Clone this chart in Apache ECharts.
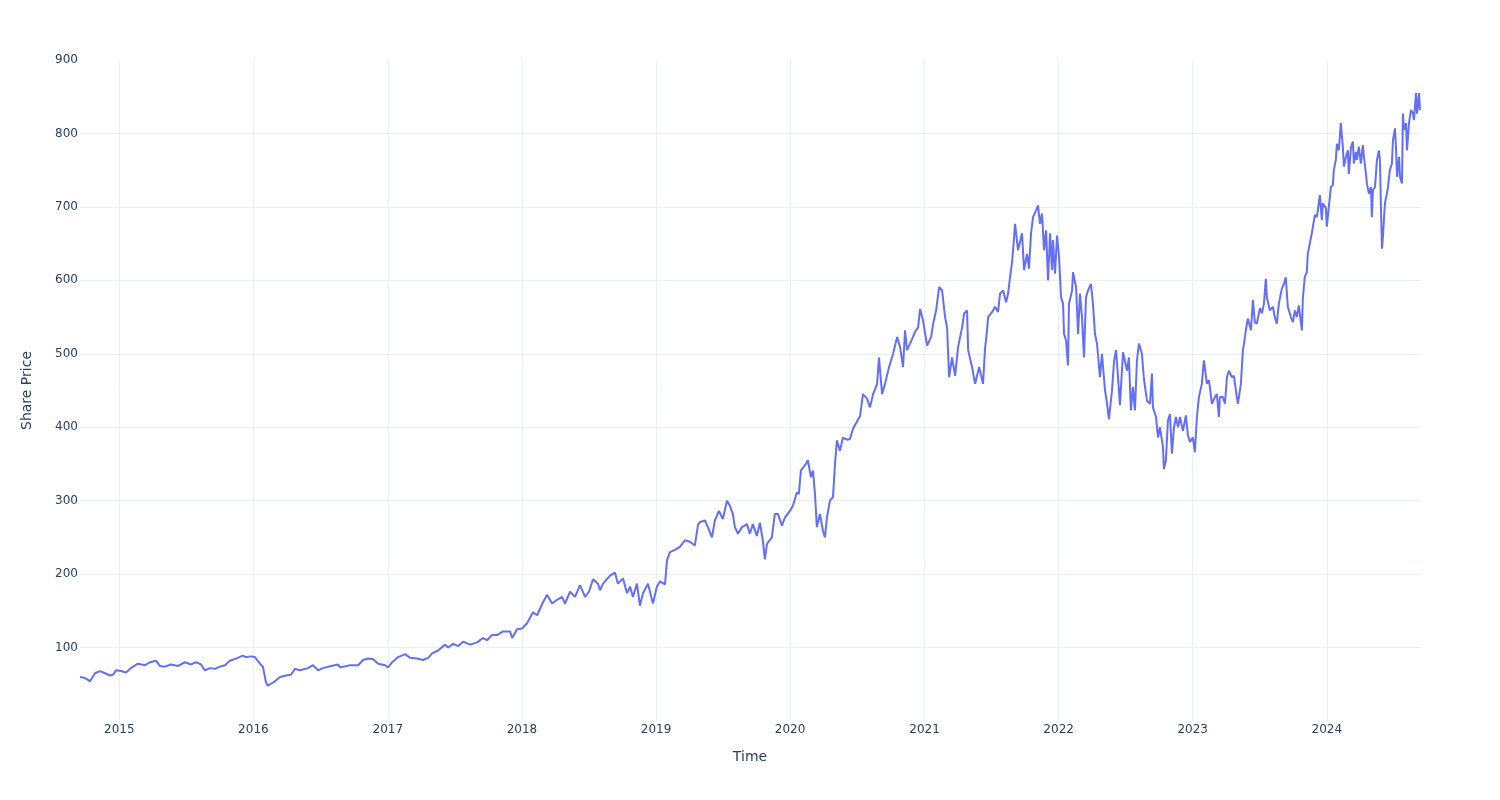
<!DOCTYPE html>
<html>
<head>
<meta charset="utf-8">
<script src="https://cdn.jsdelivr.net/npm/echarts@6/dist/echarts.min.js"></script>
<style>
html,body{margin:0;padding:0;background:#fff;}
#chart{width:1500px;height:800px;}
</style>
</head>
<body>
<div id="chart"></div>
<script>
// Dates as decimal years, prices
const t2014 = [2014.707,2014.737,2014.767,2014.782,2014.819,2014.856,2014.894,2014.931,2014.953,2014.975];
const p2014 = [60,59,56,54,65,68,65,62,63,69];

const t2015 = [2015.013,2015.050,2015.087,2015.139,2015.192,2015.229,2015.274,2015.303,2015.341,2015.385,2015.438,2015.490,2015.534,2015.572,2015.609,2015.639,2015.676,2015.713,2015.750,2015.788,2015.825,2015.870,2015.922,2015.944,2015.981];
const p2015 = [68,66,72,78,76,80,82,75,74,77,75,80,77,80,77,69,72,71,74,76,82,85,89,87,88];

const t2016 = [2016.011,2016.049,2016.071,2016.093,2016.108,2016.160,2016.198,2016.242,2016.280,2016.309,2016.347,2016.406,2016.443,2016.481,2016.518,2016.578,2016.630,2016.645,2016.719,2016.779,2016.816,2016.853,2016.891,2016.928,2016.980];
const p2016 = [87,78,74,53,48,54,60,62,63,71,69,72,76,69,72,75,77,73,76,76,83,85,84,78,76];

const t2017 = [2017.002,2017.032,2017.077,2017.129,2017.166,2017.219,2017.263,2017.301,2017.330,2017.375,2017.427,2017.450,2017.487,2017.524,2017.561,2017.614,2017.666,2017.710,2017.740,2017.777,2017.815,2017.859,2017.912,2017.927,2017.964];
const p2017 = [73,80,87,91,86,85,83,86,92,96,104,100,105,102,108,104,107,113,110,117,117,122,122,113,125];

const t2018 = [2018.001,2018.038,2018.083,2018.113,2018.150,2018.187,2018.225,2018.262,2018.299,2018.321,2018.359,2018.396,2018.433,2018.471,2018.500,2018.530,2018.567,2018.582,2018.605,2018.657,2018.694,2018.716,2018.754,2018.784,2018.806,2018.828,2018.858,2018.880,2018.903,2018.940,2018.977];
const p2018 = [126,133,148,144,159,172,160,165,169,160,176,169,185,169,176,193,187,178,187,198,202,187,194,174,183,169,187,157,174,187,160];

const t2019 = [2019.007,2019.029,2019.067,2019.082,2019.104,2019.141,2019.178,2019.216,2019.253,2019.290,2019.313,2019.328,2019.365,2019.387,2019.417,2019.439,2019.469,2019.499,2019.529,2019.551,2019.573,2019.588,2019.611,2019.641,2019.678,2019.700,2019.722,2019.752,2019.775,2019.797,2019.812,2019.827,2019.864,2019.886,2019.909,2019.939,2019.961,2019.998];
const p2019 = [183,190,186,219,230,233,237,246,244,239,267,271,273,264,250,273,286,275,300,293,282,264,255,264,268,255,268,252,270,245,220,241,250,282,282,266,277,286];

const t2020 = [2020.021,2020.050,2020.065,2020.080,2020.110,2020.132,2020.155,2020.170,2020.185,2020.199,2020.222,2020.244,2020.259,2020.274,2020.296,2020.319,2020.334,2020.348,2020.371,2020.393,2020.423,2020.445,2020.468,2020.498,2020.520,2020.542,2020.572,2020.594,2020.617,2020.647,2020.661,2020.684,2020.706,2020.736,2020.766,2020.796,2020.818,2020.840,2020.855,2020.870,2020.907,2020.930,2020.952,2020.967,2020.989];
const p2020 = [293,311,309,341,348,355,332,341,309,264,282,259,250,277,300,305,350,382,368,386,383,384,398,408,415,445,439,427,445,459,495,445,459,482,500,523,509,482,532,505,520,530,536,561,545];

const t2021 = [2021.019,2021.049,2021.064,2021.086,2021.109,2021.131,2021.153,2021.168,2021.183,2021.205,2021.228,2021.250,2021.280,2021.295,2021.317,2021.325,2021.354,2021.377,2021.407,2021.436,2021.451,2021.466,2021.474,2021.504,2021.526,2021.548,2021.563,2021.586,2021.608,2021.623,2021.638,2021.653,2021.660,2021.675,2021.697,2021.727,2021.742,2021.764,2021.779,2021.794,2021.809,2021.831,2021.846,2021.861,2021.876,2021.891,2021.906,2021.921,2021.936,2021.951,2021.958,2021.973,2021.988];
const p2021 = [511,523,541,559,591,586,550,536,468,495,470,509,536,555,559,505,482,459,482,459,507,532,550,557,564,557,582,586,570,582,605,625,641,677,641,664,614,636,616,664,686,695,702,677,691,641,668,600,664,614,655,609,661];

const t2022 = [2022.003,2022.018,2022.033,2022.040,2022.055,2022.070,2022.077,2022.100,2022.107,2022.130,2022.145,2022.159,2022.174,2022.189,2022.204,2022.219,2022.241,2022.256,2022.271,2022.286,2022.308,2022.323,2022.346,2022.361,2022.375,2022.398,2022.413,2022.428,2022.442,2022.457,2022.480,2022.510,2022.524,2022.539,2022.554,2022.569,2022.584,2022.599,2022.621,2022.636,2022.659,2022.681,2022.696,2022.703,2022.726,2022.741,2022.755,2022.778,2022.785,2022.800,2022.815,2022.830,2022.845,2022.860,2022.875,2022.890,2022.905,2022.927,2022.949,2022.964,2022.979];
const p2022 = [632,577,568,527,518,484,568,586,611,591,527,582,550,495,577,586,595,568,527,514,468,500,450,432,411,450,490,505,470,430,502,477,495,423,455,423,491,514,500,466,436,432,473,427,414,386,400,373,343,355,409,418,364,400,414,400,414,395,416,389,380];

const t2023 = [2023.001,2023.016,2023.031,2023.046,2023.068,2023.083,2023.091,2023.106,2023.121,2023.143,2023.165,2023.180,2023.195,2023.203,2023.225,2023.240,2023.255,2023.270,2023.292,2023.307,2023.329,2023.337,2023.359,2023.374,2023.381,2023.396,2023.411,2023.434,2023.449,2023.463,2023.478,2023.501,2023.516,2023.531,2023.545,2023.553,2023.575,2023.598,2023.612,2023.627,2023.642,2023.665,2023.680,2023.694,2023.709,2023.732,2023.747,2023.762,2023.776,2023.791,2023.814,2023.821,2023.836,2023.851,2023.858,2023.873,2023.888,2023.896,2023.911,2023.925,2023.933,2023.948,2023.963,2023.970,2023.993];
const p2023 = [386,366,414,441,459,491,489,459,464,432,441,445,414,441,441,432,468,477,468,470,441,432,459,505,512,532,548,532,573,543,541,562,555,568,602,577,559,564,550,541,568,589,595,604,564,550,543,559,550,566,532,575,605,611,636,650,664,673,689,686,695,716,682,705,698];

const t2024 = [2024.000,2024.015,2024.030,2024.045,2024.052,2024.067,2024.075,2024.089,2024.104,2024.119,2024.127,2024.142,2024.156,2024.164,2024.179,2024.194,2024.201,2024.216,2024.224,2024.238,2024.253,2024.268,2024.276,2024.291,2024.298,2024.313,2024.328,2024.335,2024.343,2024.358,2024.373,2024.387,2024.395,2024.402,2024.410,2024.417,2024.432,2024.447,2024.455,2024.469,2024.484,2024.492,2024.507,2024.514,2024.522,2024.537,2024.544,2024.559,2024.566,2024.574,2024.589,2024.596,2024.611,2024.626,2024.641,2024.648,2024.663,2024.671,2024.686,2024.693];
const p2024 = [673,700,727,730,750,764,786,777,814,782,755,768,777,745,780,789,759,775,764,782,759,784,768,745,732,718,727,686,723,727,764,777,764,705,643,659,705,718,727,750,759,791,807,782,741,768,741,732,827,805,814,777,814,832,827,818,855,827,855,832];

const yTicks = [100,200,300,400,500,600,700,800,900];
const xTitle = 'Time';
const yTitle = 'Share Price';

const allT = [].concat(t2014,t2015,t2016,t2017,t2018,t2019,t2020,t2021,t2022,t2023,t2024);
const allP = [].concat(p2014,p2015,p2016,p2017,p2018,p2019,p2020,p2021,p2022,p2023,p2024);

function yearToMs(t){
  const y = Math.floor(t);
  const a = new Date(y,0,1).getTime();
  const b = new Date(y+1,0,1).getTime();
  return a + (t - y) * (b - a);
}
const seriesData = allT.map((t,i) => [yearToMs(t), allP[i]]);

const txt = '#2a3f5f';
const gridCol = '#ebf0f8';
const DAY = 86400000;

const chart = echarts.init(document.getElementById('chart'), null, {renderer:'canvas'});
chart.setOption({
  animation:false,
  backgroundColor:'#ffffff',
  textStyle:{fontFamily:'DejaVu Sans'},
  grid:{left:80,right:80,top:60,bottom:79,containLabel:false},
  xAxis:{
    type:'time',
    min:seriesData[0][0],
    max:seriesData[seriesData.length-1][0],
    splitNumber:10,
    minInterval:365*DAY,
    maxInterval:366*DAY,
    name:xTitle,
    nameLocation:'middle',
    nameGap:29,
    nameTextStyle:{color:txt,fontSize:14,fontFamily:'DejaVu Sans'},
    axisLine:{show:false},
    axisTick:{show:false},
    axisLabel:{
      color:txt,fontSize:12,margin:3,fontFamily:'DejaVu Sans',
      showMinLabel:false,showMaxLabel:false,
      formatter:function(v){ return String(new Date(v).getFullYear()); }
    },
    splitLine:{show:true,showMinLine:false,showMaxLine:false,lineStyle:{color:gridCol,width:1}}
  },
  yAxis:{
    type:'value',
    min:0,max:900,interval:100,
    name:yTitle,
    nameLocation:'middle',
    nameGap:46,
    nameTextStyle:{color:txt,fontSize:14,fontFamily:'DejaVu Sans'},
    axisLine:{show:false},
    axisTick:{show:false},
    axisLabel:{
      color:txt,fontSize:12,margin:2,fontFamily:'DejaVu Sans',
      showMinLabel:false,
      formatter:function(v){ return yTicks.indexOf(v) >= 0 ? String(v) : ''; }
    },
    splitLine:{show:true,showMinLine:false,showMaxLine:false,lineStyle:{color:gridCol,width:1}}
  },
  series:[{
    type:'line',
    data:seriesData,
    showSymbol:false,
    symbol:'none',
    smooth:false,
    lineStyle:{color:'#636efa',width:2},
    itemStyle:{color:'#636efa'}
  }]
});
</script>
</body>
</html>
